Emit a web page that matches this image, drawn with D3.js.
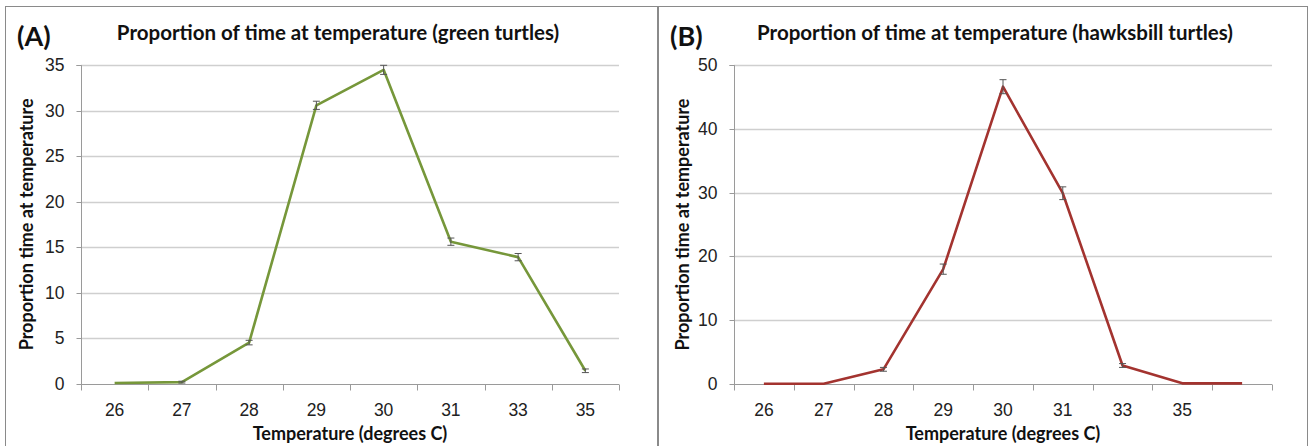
<!DOCTYPE html>
<html>
<head>
<meta charset="utf-8">
<script src="https://cdn.jsdelivr.net/npm/d3@7"></script>
<style>
  html, body { margin: 0; padding: 0; background: #fff; }
  svg { display: block; font-family: Lato, "Open Sans", sans-serif; }
</style>
</head>
<body>
<svg id="chart" width="1312" height="446"></svg>
<script>
// Temperature categories (degrees C)
const tempsGreen = ["26", "27", "28", "29", "30", "31", "33", "35"];
const tempsHawksbill = ["26", "27", "28", "29", "30", "31", "33", "35", ""];

// Mean proportion of time at each temperature, with standard error
const greenMean = [0.05, 0.15, 4.5, 30.6, 34.5, 15.6, 13.9, 1.4];
const greenErr = [0.05, 0.1, 0.25, 0.45, 0.5, 0.4, 0.4, 0.2];
const hawksbillMean = [0.05, 0.05, 2.3, 18.0, 46.6, 29.9, 2.9, 0.1, 0.1];
const hawksbillErr = [0.05, 0.05, 0.3, 0.8, 1.1, 1.0, 0.3, 0.05, 0.05];

// Value-axis ticks
const yTicksGreen = [0, 5, 10, 15, 20, 25, 30, 35];
const yTicksHawksbill = [0, 10, 20, 30, 40, 50];

const svg = d3.select("#chart");

function drawPanel(p) {
  const g = svg.append("g");

  // panel frame
  g.append("rect")
    .attr("x", p.frame[0] + 0.5).attr("y", 6.5)
    .attr("width", p.frame[1] - p.frame[0]).attr("height", 460)
    .attr("fill", "none").attr("stroke", "#8a8a8a").attr("stroke-width", 1);

  const x = d3.scaleBand()
    .domain(d3.range(p.cats.length))
    .range([p.left, p.right])
    .paddingInner(0).paddingOuter(0);
  const cx = i => x(i) + x.bandwidth() / 2;

  const y = d3.scaleLinear().domain([0, p.yMax]).range([p.bottom, p.top]);

  // horizontal gridlines
  g.append("g").selectAll("line")
    .data(p.yTicks.filter(t => t > 0))
    .join("line")
    .attr("x1", p.left).attr("x2", p.right)
    .attr("y1", d => Math.round(y(d)) + 0.5).attr("y2", d => Math.round(y(d)) + 0.5)
    .attr("stroke", "#cfcfcf").attr("stroke-width", 1.5);

  // value axis
  const yAxis = d3.axisLeft(y).tickValues(p.yTicks).tickSize(5).tickPadding(12).tickFormat(d3.format("d"));
  const ya = g.append("g").attr("transform", `translate(${p.left + 0.5},0.5)`).call(yAxis);
  ya.select(".domain").attr("stroke", "#9a9a9a").attr("d", `M-5,${Math.round(p.top)}H0V${Math.round(p.bottom)}`);
  ya.selectAll(".tick line").attr("stroke", "#9a9a9a");
  ya.selectAll(".tick").attr("transform", d => `translate(0,${Math.round(y(d))})`);
  ya.selectAll("text").attr("fill", "#222").attr("font-size", 17.5);

  // category axis
  const xAxis = d3.axisBottom(x).tickSize(0).tickPadding(19).tickFormat(i => p.cats[i]);
  const xa = g.append("g").attr("transform", `translate(0,${Math.round(p.bottom) + 0.5})`).call(xAxis);
  xa.select(".domain").attr("stroke", "#9a9a9a").attr("d", `M${p.left},0H${p.right}`);
  xa.selectAll(".tick line").remove();
  xa.selectAll("text").attr("fill", "#222").attr("font-size", 17.5);
  // tick marks at category boundaries
  xa.append("g").selectAll("line")
    .data(d3.range(p.cats.length + 1))
    .join("line")
    .attr("x1", i => Math.round(p.left + i * x.bandwidth()) + 0.5)
    .attr("x2", i => Math.round(p.left + i * x.bandwidth()) + 0.5)
    .attr("y1", 0).attr("y2", 6)
    .attr("stroke", "#9a9a9a");

  // series line
  const line = d3.line().x((d, i) => cx(i)).y(d => y(d));
  g.append("path")
    .datum(p.mean)
    .attr("d", line)
    .attr("fill", "none")
    .attr("stroke", p.color)
    .attr("stroke-width", 2.6)
    .attr("stroke-linejoin", "round");

  // error bars
  const eb = g.append("g").attr("stroke", "#555").attr("stroke-width", 1);
  p.mean.forEach((m, i) => {
    const e = p.err[i];
    if (e < 0.1) return;
    const x0 = cx(i);
    eb.append("line").attr("x1", x0).attr("x2", x0).attr("y1", y(m - e)).attr("y2", y(m + e));
    eb.append("line").attr("x1", x0 - 3.5).attr("x2", x0 + 3.5).attr("y1", y(m + e)).attr("y2", y(m + e));
    eb.append("line").attr("x1", x0 - 3.5).attr("x2", x0 + 3.5).attr("y1", y(m - e)).attr("y2", y(m - e));
  });

  // panel letter
  g.append("text")
    .attr("x", p.frame[0] + 12).attr("y", 46)
    .attr("font-size", 27).attr("font-weight", "bold").attr("fill", "#111")
    .text(p.letter);

  // chart title
  g.append("text")
    .attr("x", p.titleX).attr("y", 40)
    .attr("text-anchor", "middle")
    .attr("font-size", 20.5).attr("font-weight", "bold").attr("fill", "#111")
    .text(p.title);

  // axis titles
  g.append("text")
    .attr("x", (p.left + p.right) / 2).attr("y", 440)
    .attr("text-anchor", "middle")
    .attr("font-size", 18).attr("font-weight", "bold").attr("fill", "#111")
    .text("Temperature (degrees C)");

  g.append("text")
    .attr("transform", `translate(${p.yTitleX},${(p.top + p.bottom) / 2}) rotate(-90)`)
    .attr("text-anchor", "middle")
    .attr("font-size", 18).attr("font-weight", "bold").attr("fill", "#111")
    .text("Proportion time at temperature");
}

drawPanel({
  frame: [5, 657],
  left: 81, right: 619, top: 65.3, bottom: 383.5,
  cats: tempsGreen, mean: greenMean, err: greenErr,
  yMax: 35, yTicks: yTicksGreen,
  color: "#76973a",
  letter: "(A)",
  title: "Proportion of time at temperature (green turtles)",
  titleX: 338, yTitleX: 33
});

drawPanel({
  frame: [658, 1307],
  left: 734, right: 1272, top: 65, bottom: 384,
  cats: tempsHawksbill, mean: hawksbillMean, err: hawksbillErr,
  yMax: 50, yTicks: yTicksHawksbill,
  color: "#a3332f",
  letter: "(B)",
  title: "Proportion of time at temperature (hawksbill turtles)",
  titleX: 995, yTitleX: 689
});
</script>
</body>
</html>
